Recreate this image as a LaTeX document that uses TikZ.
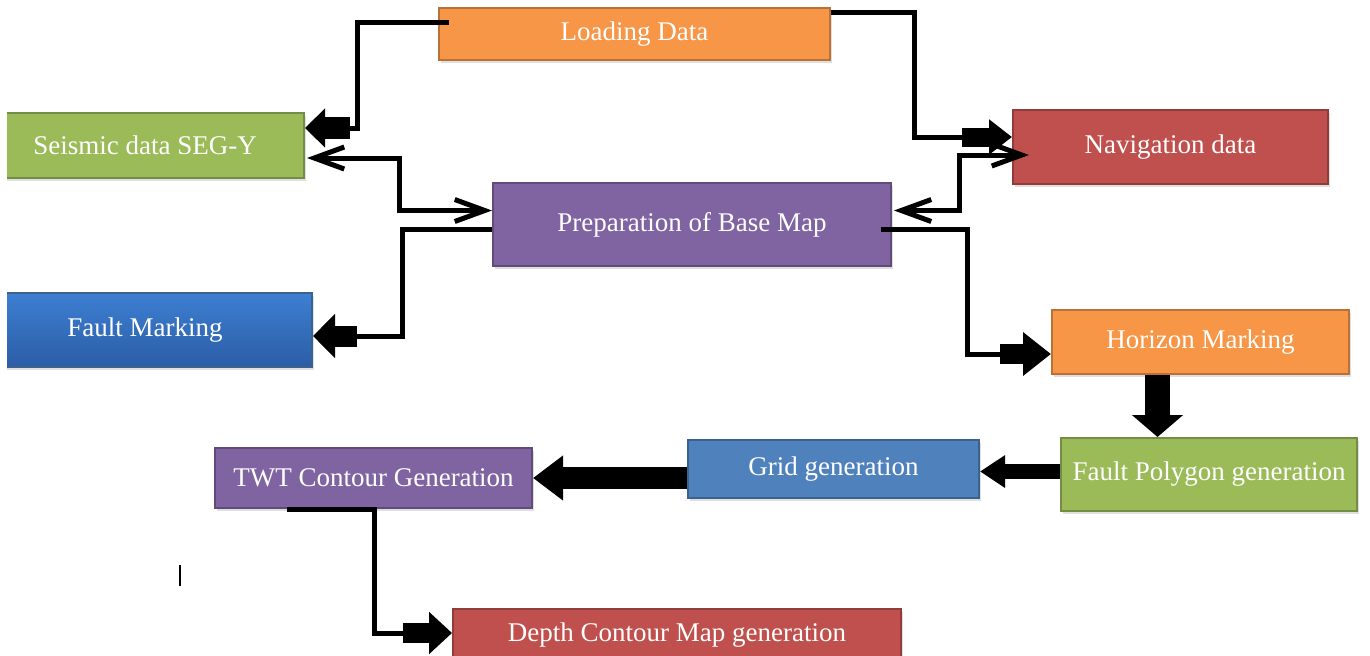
\documentclass[tikz,border=0pt]{standalone}
\usepackage{fontspec}
\setmainfont{Liberation Serif}
\usetikzlibrary{arrows.meta,calc,shadows}

\definecolor{orangebox}{HTML}{F79646}
\definecolor{greenbox}{HTML}{9BBB59}
\definecolor{redbox}{HTML}{C0504D}
\definecolor{purplebox}{HTML}{8064A2}
\definecolor{bluebox}{HTML}{4F81BD}
\definecolor{bluetop}{HTML}{3D7FD2}
\definecolor{bluebot}{HTML}{2B5DA6}

\begin{document}
\begin{tikzpicture}[x=0.5pt, y=-0.5pt,
    box/.style={draw=#1!75!black, fill=#1, line width=1pt, text=white, inner sep=0pt,
        font=\fontsize{13.5}{16}\selectfont,
        drop shadow={opacity=0.25, shadow xshift=1pt, shadow yshift=-1.5pt}},
    wire/.style={line width=2.5pt},
    twoway/.style={wire, {Straight Barb[length=15pt,width=11pt]}-{Straight Barb[length=15pt,width=11pt]}},
    fat/.style={line width=10pt, -{Triangle[length=11pt,width=20pt]}}]

    \useasboundingbox (0,0) rectangle (1370,655);
    \clip (7,0) rectangle (1370,655);

    % boxes
    \node[box=orangebox, minimum width=195.5pt, minimum height=26pt] (load) at (634.5,34) {Loading Data};
    \node[box=greenbox, minimum width=159pt, minimum height=32.5pt] (seis) at (145,145.5) {Seismic data SEG-Y};
    \node[box=redbox, minimum width=157.5pt, minimum height=37pt] (nav) at (1170.5,147) {Navigation data};
    \node[box=purplebox, minimum width=199pt, minimum height=41.5pt] (prep) at (692,224.5) {Preparation of Base Map};
    \node[box=bluebox, top color=bluetop, bottom color=bluebot, minimum width=167pt, minimum height=37pt] (fmark) at (145,330) {Fault Marking};
    \node[box=orangebox, minimum width=148.5pt, minimum height=32pt] (hor) at (1200.5,342) {Horizon Marking};
    \node[box=greenbox, minimum width=148pt, minimum height=36.5pt] (fpoly) at (1209,474.5) {Fault Polygon generation};
    \node[box=bluebox, minimum width=145.5pt, minimum height=29pt] (grid) at (833.5,469) {Grid generation};
    \node[box=purplebox, minimum width=158.5pt, minimum height=30pt] (twt) at (373.5,478) {TWT Contour Generation};
    \node[box=redbox, minimum width=224pt, minimum height=26pt] (depth) at (677,635) {Depth Contour Map generation};

    % connectors
    \coordinate (s1) at (350,128);
    \draw[wire] ($(load.north west)+(11,15)$) -- ++(-92,0) |- (s1);
    \draw[fat, line width=11pt, -{Triangle[length=10pt,width=19pt]}] (s1) -- (seis.east |- s1);

    \coordinate (s2) at (962,137);
    \draw[wire] ($(load.north east)+(0,5)$) -- ++(83,0) |- (s2);
    \draw[fat, line width=9.5pt, -{Triangle[length=11.5pt,width=17pt]}] (s2) -- (nav.west |- s2);

    \draw[twoway] ($(seis.south east)+(2,-21)$) -- ++(92,0) |- ($(prep.west)+(0,-14)$);
    \draw[twoway] ($(nav.west)+(17,8)$) -- ++(-70,0) |- ($(prep.east)+(2,-14)$);

    \coordinate (s5) at (357,336);
    \draw[wire] ($(prep.west)+(0,5)$) -- ++(-90,0) |- (s5);
    \draw[fat, line width=10.5pt, -{Triangle[length=11pt,width=21.5pt]}] (s5) -- (fmark.east |- s5);

    \coordinate (s6) at (1000,354);
    \draw[wire] ($(prep.east)+(-11,5)$) -- ++(86,0) |- (s6);
    \draw[fat, -{Triangle[length=14pt,width=21pt]}] (s6) -- (hor.west |- s6);

    \coordinate (s7) at ($(hor.south)+(-43,0)$);
    \draw[fat, line width=12.5pt, -{Triangle[length=11pt,width=25pt]}] (s7) -- (s7 |- fpoly.north);

    \coordinate (s8) at ($(fpoly.west)+(0,-3)$);
    \draw[fat, line width=7.5pt, -{Triangle[length=12.5pt,width=15.5pt]}] (s8) -- (s8 -| grid.east);

    \draw[fat, line width=11pt, -{Triangle[length=15pt,width=21.5pt]}] (grid.west |- twt.east) -- (twt.east);

    \coordinate (s10) at (403,633);
    \draw[wire] ($(twt.south west)+(73,0)$) -- ++(87,0) |- (s10);
    \draw[fat, -{Triangle[length=11.5pt,width=20.5pt]}] (s10) -- (depth.west |- s10);

    \draw[line width=1pt] (180,565) -- (180,586);

\end{tikzpicture}
\end{document}
